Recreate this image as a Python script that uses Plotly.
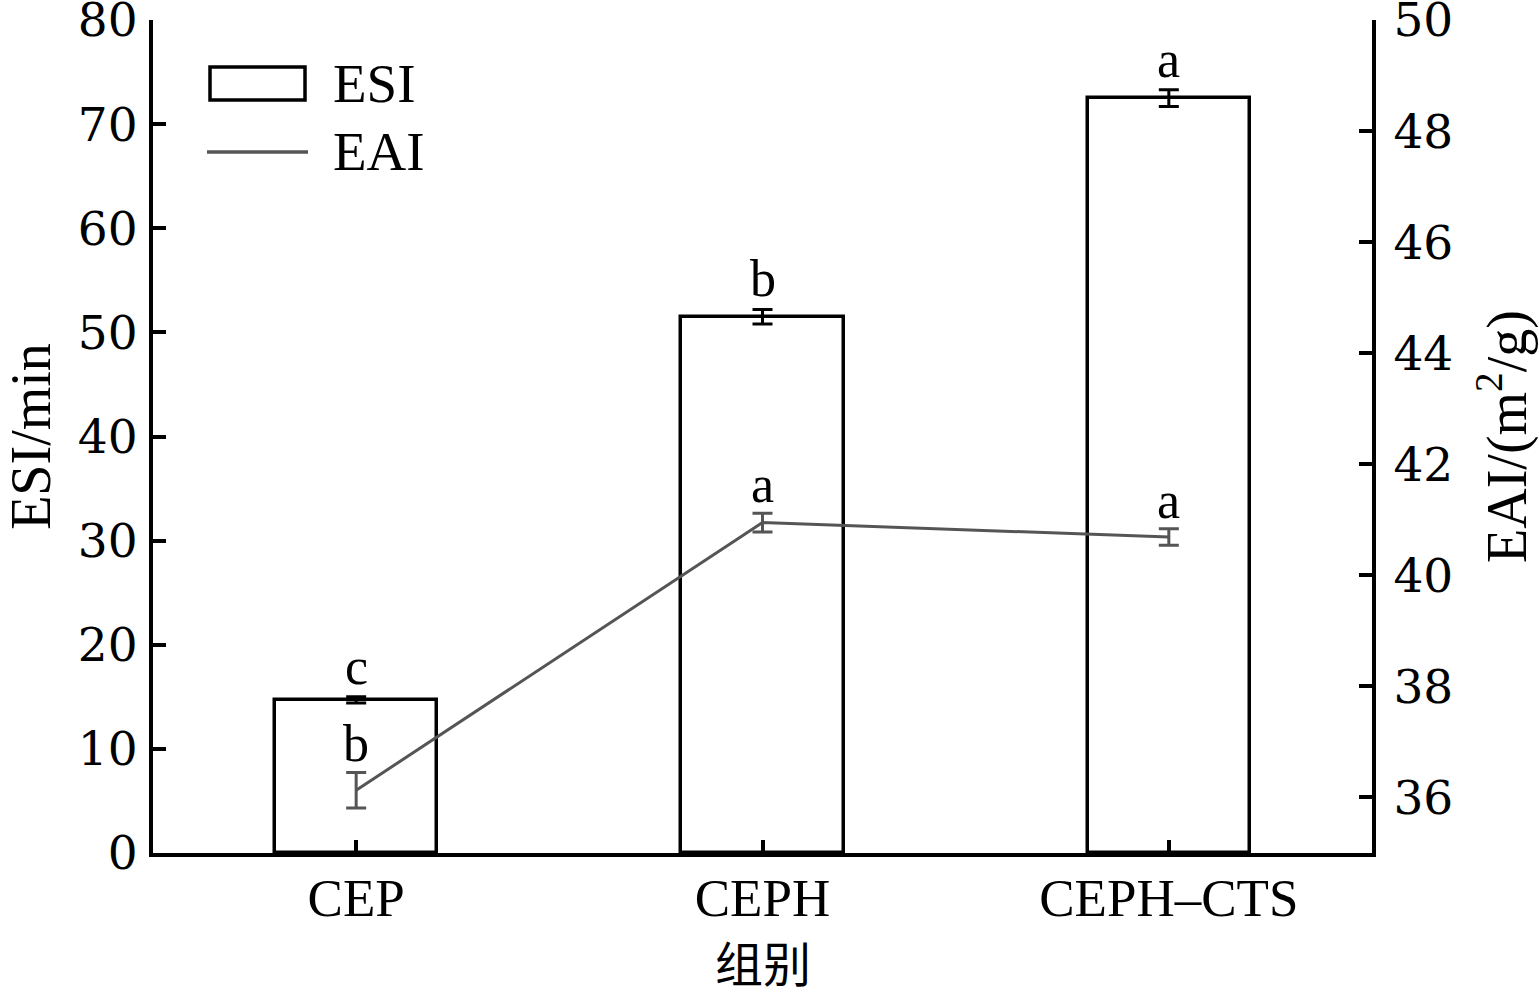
import plotly.graph_objects as go

categories = ["CEP", "CEPH", "CEPH\u2013CTS"]
esi_values = [14.7, 51.5, 72.5]
esi_errors = [0.3, 0.7, 0.8]
esi_letters = ["c", "b", "a"]
eai_values = [36.13, 40.95, 40.69]
eai_errors = [0.32, 0.17, 0.15]
eai_letters = ["b", "a", "a"]
left_ticks = [0, 10, 20, 30, 40, 50, 60, 70, 80]
right_ticks = [36, 38, 40, 42, 44, 46, 48, 50]

SERIF = "Liberation Serif, Times New Roman, serif"
NUMF = "DejaVu Serif, Liberation Serif, serif"
CJK = "Noto Sans CJK SC"
GRAY = "#555555"
xs = list(range(len(categories)))

# Body margin is removed in post_script; target plot area: x 153..1372, y 20..853
W, H = 1539, 992
L, T = 153, 20
R = W - 1372
B = H - 853
pw, ph = W - L - R, H - T - B


def px(xw):
    return (xw - L) / pw


def py(yw):
    return 1 - (yw - T) / ph


fig = go.Figure()
fig.add_trace(go.Bar(
    x=xs, y=esi_values, width=0.4, name="ESI",
    marker=dict(color="white", line=dict(color="black", width=3.5)),
    error_y=dict(type="data", array=esi_errors, color="black", thickness=3, width=10),
    showlegend=False,
))
fig.add_trace(go.Scatter(
    x=xs, y=eai_values, yaxis="y2", mode="lines", name="EAI",
    line=dict(color=GRAY, width=3),
    error_y=dict(type="data", array=eai_errors, color=GRAY, thickness=3, width=10),
    showlegend=False,
))

annotations = []
for i, (v, e, t) in enumerate(zip(esi_values, esi_errors, esi_letters)):
    annotations.append(dict(x=i, y=v + e, xref="x", yref="y", text=t, showarrow=False,
                            yanchor="bottom", yshift=0, font=dict(family=SERIF, size=52, color="black")))
for i, (v, e, t) in enumerate(zip(eai_values, eai_errors, eai_letters)):
    annotations.append(dict(x=i, y=v + e, xref="x", yref="y2", text=t, showarrow=False,
                            yanchor="bottom", yshift=-2, font=dict(family=SERIF, size=52, color="black")))

# Legend (drawn manually to reproduce the wide rectangle symbol)
annotations.append(dict(x=px(331), y=py(84), xref="paper", yref="paper", text="ESI", showarrow=False,
                        xanchor="left", yanchor="middle", font=dict(family=SERIF, size=55, color="black")))
annotations.append(dict(x=px(331), y=py(152), xref="paper", yref="paper", text="EAI", showarrow=False,
                        xanchor="left", yanchor="middle", font=dict(family=SERIF, size=55, color="black")))
# x-axis title
annotations.append(dict(x=0.5, y=py(961), xref="paper", yref="paper", text="组别", showarrow=False,
                        xanchor="center", yanchor="middle", font=dict(family=CJK, size=48, color="black")))

shapes = [
    dict(type="rect", xref="paper", yref="paper", x0=px(210), x1=px(305), y0=py(100), y1=py(67),
         line=dict(color="black", width=3.5), fillcolor="white"),
    dict(type="line", xref="paper", yref="paper", x0=px(207), x1=px(308), y0=py(152), y1=py(152),
         line=dict(color=GRAY, width=3.5)),
]

fig.update_layout(
    width=W, height=H,
    margin=dict(l=L, r=R, t=T, b=B, pad=0, autoexpand=False),
    paper_bgcolor="white", plot_bgcolor="white",
    font=dict(family=SERIF, size=46, color="black"),
    bargap=0,
    xaxis=dict(
        tickmode="array", tickvals=xs, ticktext=categories, range=[-0.5, 2.5],
        showline=True, linecolor="black", linewidth=4, ticks="inside", ticklen=13,
        tickwidth=4, tickcolor="black", showgrid=False, zeroline=False, automargin=False,
        tickfont=dict(family=SERIF, size=53), ticklabelstandoff=-5,
    ),
    yaxis=dict(
        range=[0, 80], tickmode="array", tickvals=left_ticks,
        showline=True, linecolor="black", linewidth=4, ticks="inside", ticklen=13,
        tickwidth=4, tickcolor="black", showgrid=False, zeroline=False, automargin=False,
        tickfont=dict(family=NUMF, size=47), ticklabelstandoff=2, ticklabeloverflow="allow",
        title=dict(text="ESI/min", font=dict(family=SERIF, size=56), standoff=44),
    ),
    yaxis2=dict(
        range=[35, 50], tickmode="array", tickvals=right_ticks, overlaying="y", side="right",
        showline=True, linecolor="black", linewidth=4, ticks="inside", ticklen=13,
        tickwidth=4, tickcolor="black", showgrid=False, zeroline=False, automargin=False,
        tickfont=dict(family=NUMF, size=47), ticklabelstandoff=8, ticklabeloverflow="allow",
        title=dict(text="EAI/(m<sup>2</sup>/g)", font=dict(family=SERIF, size=56), standoff=40),
    ),
    annotations=annotations,
    shapes=shapes,
    showlegend=False,
)

fig.write_html(
    "out.html",
    config={"displayModeBar": False},
    post_script="document.body.style.margin='0';document.body.style.overflow='hidden';",
)
